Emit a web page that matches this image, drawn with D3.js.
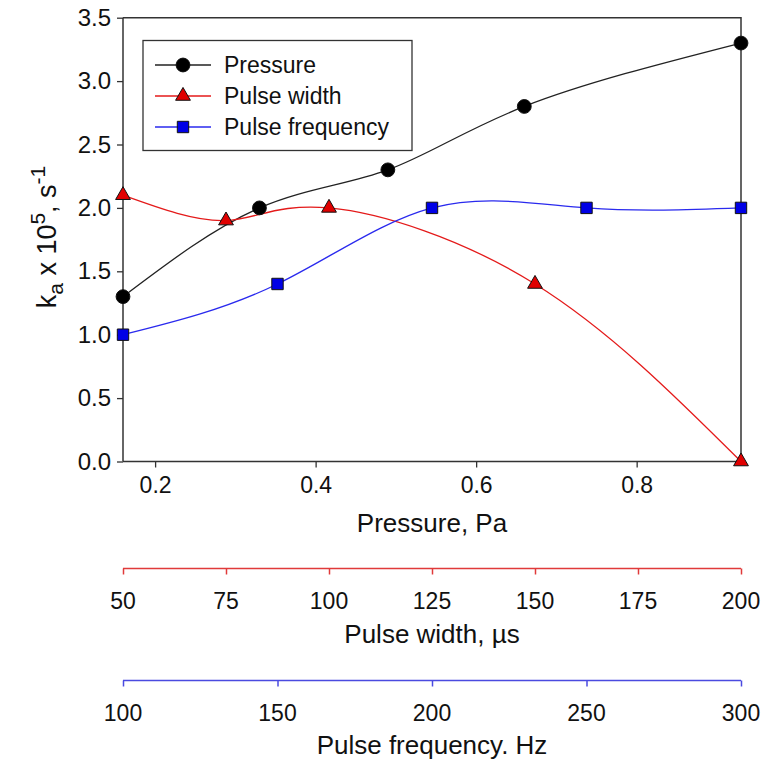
<!DOCTYPE html>
<html lang="en">
<head>
<meta charset="UTF-8">
<title>ka vs pressure, pulse width, pulse frequency</title>
<script src="https://d3js.org/d3.v7.min.js"></script>
<style>
  body { margin: 0; background: #fff; }
  text { font-family: "Liberation Sans", Arial, sans-serif; fill: #111; }
</style>
</head>
<body>
<svg id="chart" width="763" height="759"></svg>
<script>
// data
const pressure = [0.16, 0.33, 0.49, 0.66, 0.93];
const pressureK = [1.3, 2.0, 2.3, 2.8, 3.3];
const pulseWidth = [50, 75, 100, 150, 200];
const pulseWidthK = [2.1, 1.9, 2.0, 1.4, 0.0];
const pulseFreq = [100, 150, 200, 250, 300];
const pulseFreqK = [1.0, 1.4, 2.0, 2.0, 2.0];

const yTicks = [0, 0.5, 1.0, 1.5, 2.0, 2.5, 3.0, 3.5];
const pressureTicks = [0.2, 0.4, 0.6, 0.8];
const widthTicks = [50, 75, 100, 125, 150, 175, 200];
const freqTicks = [100, 150, 200, 250, 300];

const svg = d3.select("#chart");
const pLeft = 123, pRight = 741, pTop = 17.7, pBottom = 461.5;

const y = d3.scaleLinear().domain([0, 3.5]).range([pBottom, pTop]);
const xP = d3.scaleLinear().domain([0.16, 0.93]).range([pLeft, pRight]);
const xW = d3.scaleLinear().domain([50, 200]).range([pLeft, pRight]);
const xF = d3.scaleLinear().domain([100, 300]).range([pLeft, pRight]);

const axisCol = "#333";

// y axis
const gy = svg.append("g").attr("transform", `translate(${pLeft},0)`)
  .call(d3.axisLeft(y).tickValues(yTicks).tickFormat(d3.format(".1f")).tickSize(6).tickPadding(6));
// pressure axis
const gx = svg.append("g").attr("transform", `translate(0,${pBottom})`)
  .call(d3.axisBottom(xP).tickValues(pressureTicks).tickFormat(d3.format(".1f")).tickSize(6).tickPadding(9));
[gy, gx].forEach(g => {
  g.select(".domain").attr("stroke", axisCol).attr("stroke-width", 1.5);
  g.selectAll(".tick line").attr("stroke", axisCol).attr("stroke-width", 1.3);
  g.selectAll("text").style("font-size", "23px").attr("fill", "#111");
});
gy.selectAll("text").style("font-size", "24px");
gx.select(".domain").attr("d", `M${pLeft},0H${pRight}`);
gy.select(".domain").attr("d", `M0,${pBottom}V${pTop}`);

// frame top / right
svg.append("path")
  .attr("d", `M${pLeft},${pTop}H${pRight}V${pBottom}`)
  .attr("fill", "none").attr("stroke", axisCol).attr("stroke-width", 1.5);

// secondary axes (ticks hang below the line)
function secondAxis(scale, ticks, yPos, col, title, titleY) {
  const g = svg.append("g").attr("transform", `translate(0,${yPos})`)
    .call(d3.axisBottom(scale).tickValues(ticks).tickSize(6).tickFormat(""));
  g.select(".domain").attr("d", `M${pLeft},0H${pRight}`).attr("stroke", col).attr("stroke-width", 1.5);
  g.selectAll(".tick line").attr("stroke", col).attr("stroke-width", 1.5);
  g.selectAll(".lbl").data(ticks).enter().append("text")
    .attr("x", d => scale(d)).attr("y", 40)
    .attr("text-anchor", "middle").style("font-size", "23px")
    .text(d => d);
  svg.append("text").attr("x", (pLeft + pRight) / 2).attr("y", titleY)
    .attr("text-anchor", "middle").style("font-size", "26px").text(title);
}
secondAxis(xW, widthTicks, 568.5, "#e03a3a", "Pulse width, \u00b5s", 643);
secondAxis(xF, freqTicks, 680.5, "#4a4ae0", "Pulse frequency. Hz", 754);

svg.append("text").attr("x", (pLeft + pRight) / 2).attr("y", 532)
  .attr("text-anchor", "middle").style("font-size", "26px").text("Pressure, Pa");

// y title
const yt = svg.append("text")
  .attr("transform", "translate(56,237) rotate(-90)")
  .attr("text-anchor", "middle").style("font-size", "27px");
yt.append("tspan").text("k");
yt.append("tspan").attr("dy", 7).style("font-size", "21px").text("a");
yt.append("tspan").attr("dy", -7).text(" x 10");
yt.append("tspan").attr("dy", -11).style("font-size", "21px").text("5");
yt.append("tspan").attr("dy", 11).text(", s");
yt.append("tspan").attr("dy", -11).style("font-size", "21px").text("-1");

// series
const series = [
  { name: "Pressure", xs: pressure, ys: pressureK, sx: xP, line: "#222", fill: "#000", shape: d3.symbolCircle, size: 150 },
  { name: "Pulse width", xs: pulseWidth, ys: pulseWidthK, sx: xW, line: "#e41a1a", fill: "#e00000", shape: d3.symbolTriangle, size: 95 },
  { name: "Pulse frequency", xs: pulseFreq, ys: pulseFreqK, sx: xF, line: "#2a2aee", fill: "#0000e6", shape: d3.symbolSquare, size: 130 }
];

const plot = svg.append("g");
series.forEach(s => {
  const pts = s.xs.map((v, i) => [s.sx(v), y(s.ys[i])]);
  plot.append("path")
    .attr("d", d3.line().curve(d3.curveNatural)(pts))
    .attr("fill", "none").attr("stroke", s.line).attr("stroke-width", 1.3);
});
series.forEach(s => {
  plot.selectAll(null).data(s.xs.map((v, i) => [s.sx(v), y(s.ys[i])])).enter()
    .append("path")
    .attr("transform", d => `translate(${d[0]},${d[1]})`)
    .attr("d", d3.symbol().type(s.shape).size(s.size))
    .attr("fill", s.fill).attr("stroke", "#111").attr("stroke-width", 1);
});

// legend
const leg = svg.append("g");
leg.append("rect").attr("x", 143).attr("y", 40.5).attr("width", 269).attr("height", 110)
  .attr("fill", "#fff").attr("stroke", axisCol).attr("stroke-width", 1.3);
series.forEach((s, i) => {
  const cy = 65 + i * 31;
  leg.append("line").attr("x1", 155).attr("x2", 211).attr("y1", cy).attr("y2", cy)
    .attr("stroke", s.line).attr("stroke-width", 1.3);
  leg.append("path").attr("transform", `translate(183,${cy})`)
    .attr("d", d3.symbol().type(s.shape).size(s.size))
    .attr("fill", s.fill).attr("stroke", "#111").attr("stroke-width", 1);
  leg.append("text").attr("x", 224).attr("y", cy + 8).style("font-size", "23px").text(s.name);
});
</script>
</body>
</html>
